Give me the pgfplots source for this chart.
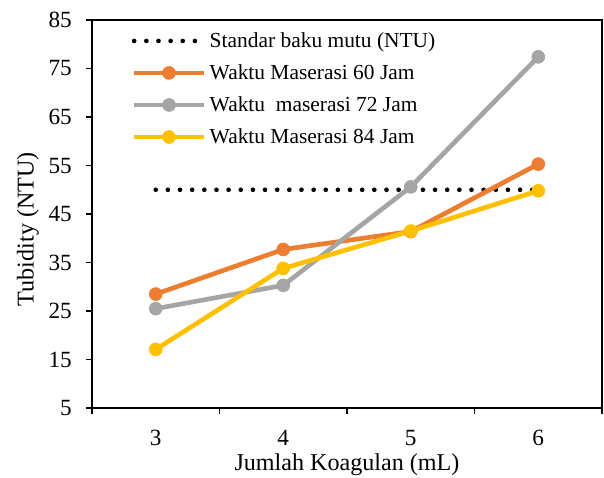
\documentclass[border=0pt]{standalone}
\usepackage{pgfplots}
\pgfplotsset{compat=1.18}
\usepackage{fontspec}
\setmainfont{Liberation Serif}
\definecolor{cOr}{HTML}{ED7D31}
\definecolor{cGr}{HTML}{A5A5A5}
\definecolor{cYe}{HTML}{FFC000}
\begin{document}
\begin{tikzpicture}
\begin{axis}[
  scale only axis,
  width=285.6pt, height=217.3pt,
  xmin=2.5, xmax=6.5, ymin=5, ymax=85,
  xtick={2.5,3.5,4.5,5.5,6.5},
  xticklabels={},
  extra x ticks={3,4,5,6},
  extra x tick labels={3,4,5,6},
  extra x tick style={major tick length=0pt,
    xticklabel style={anchor=base, yshift=-21pt}},
  ytick={5,15,25,35,45,55,65,75,85},
  major tick length=3.4pt,
  tick style={black, line width=0.9pt},
  tick align=outside,
  xtick pos=bottom, ytick pos=left,
  axis line style={black, line width=0.9pt},
  /pgf/number format/assume math mode=true,
  tick label style={font=\fontsize{13}{13}\selectfont},
  yticklabel style={xshift=-4.4pt},
  xlabel={Jumlah Koagulan (mL)},
  ylabel={Tubidity (NTU)},
  label style={font=\fontsize{13.5}{13.5}\selectfont},
  xlabel style={at={(axis description cs:0.5,0)}, anchor=base, yshift=-34.7pt},
  ylabel style={at={(axis description cs:-0.1255,0.461)}, anchor=center},
  legend style={draw=none, fill=none, at={(0.067,0.988)}, anchor=north west,
    font=\fontsize{12}{12}\selectfont, row sep=4.1pt,
    /tikz/every even column/.append style={column sep=2pt}},
  legend cell align=left,
  legend image code/.code={\draw[#1] (0pt,0pt) -- (39pt,0pt); \path[#1, only marks] plot coordinates {(19.5pt,0pt)};},
]
\addplot[black, line width=2.6pt, line cap=round, dash pattern=on 0pt off 6.8pt, mark=none]
  coordinates {(3,50) (4,50) (5,50) (6,50)};
\addlegendentry{Standar baku mutu (NTU)}
\addplot[cOr, line width=2.6pt, mark=*, mark size=3.6pt, mark options={solid, line width=0.4pt}]
  coordinates {(3,28.5) (4,37.7) (5,41.4) (6,55.3)};
\addlegendentry{Waktu Maserasi 60 Jam}
\addplot[cGr, line width=2.6pt, mark=*, mark size=3.6pt, mark options={solid, line width=0.4pt}]
  coordinates {(3,25.5) (4,30.3) (5,50.6) (6,77.4)};
\addlegendentry{Waktu\ \ maserasi 72 Jam}
\addplot[cYe, line width=2.6pt, mark=*, mark size=3.6pt, mark options={solid, line width=0.4pt}]
  coordinates {(3,17.1) (4,33.8) (5,41.5) (6,49.8)};
\addlegendentry{Waktu Maserasi 84 Jam}
\end{axis}
\pgfresetboundingbox
\path[use as bounding box] ([shift={(-51.5pt,-38.6pt)}]current axis.south west) rectangle ([shift={(1.1pt,11.2pt)}]current axis.north east);
\end{tikzpicture}
\end{document}
